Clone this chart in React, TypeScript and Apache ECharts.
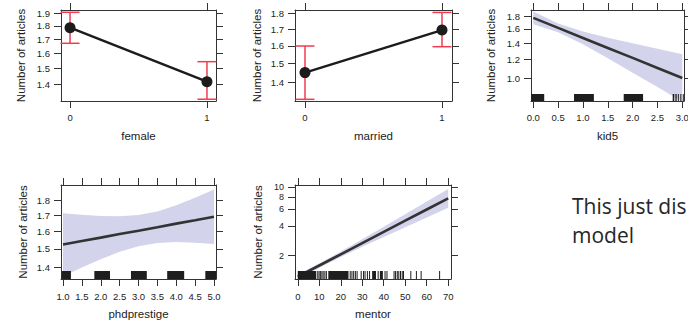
import React, { useEffect, useRef } from "react";
import * as echarts from "echarts";

// ---------------- data ----------------
// Panel 1: female (factor)
const femaleLevels = [0, 1];
const femaleFit = [1.786, 1.416];
const femaleLower = [1.67, 1.313];
const femaleUpper = [1.908, 1.543];

// Panel 2: married (factor)
const marriedLevels = [0, 1];
const marriedFit = [1.452, 1.694];
const marriedLower = [1.318, 1.595];
const marriedUpper = [1.599, 1.806];

// Panel 3: kid5
const kid5X = [0, 0.5, 1, 1.5, 2, 2.5, 3];
const kid5Fit = [1.777, 1.616, 1.47, 1.337, 1.217, 1.107, 1.007];
const kid5Upper = [1.887, 1.683, 1.561, 1.473, 1.398, 1.326, 1.261];
const kid5Lower = [1.674, 1.552, 1.384, 1.213, 1.059, 0.924, 0.804];
const kid5Rug = [
  [-0.04, 0.22], [0.82, 1.22], [1.82, 2.21],
  [2.806, 2.839], [2.86, 2.887], [2.92, 2.94], [2.97, 2.97], [3.02, 3.02],
];

// Panel 4: phdprestige
const phdX = [1, 1.5, 2, 2.5, 3, 3.5, 4, 4.5, 5];
const phdFit = [1.524, 1.544, 1.564, 1.585, 1.605, 1.626, 1.648, 1.669, 1.691];
const phdUpper = [1.714, 1.703, 1.695, 1.694, 1.702, 1.725, 1.765, 1.816, 1.873];
const phdLower = [1.354, 1.399, 1.443, 1.483, 1.514, 1.533, 1.538, 1.535, 1.527];
const phdRug = [[0.97, 1.21], [1.83, 2.245], [2.8, 3.22], [3.76, 4.21], [4.77, 5.07]];

// Panel 5: mentor
const mentorX = [0, 10, 20, 30, 40, 50, 60, 70];
const mentorFit = [1.22, 1.588, 2.067, 2.691, 3.502, 4.559, 5.933, 7.722];
const mentorUpper = [1.294, 1.669, 2.202, 2.942, 3.947, 5.309, 7.144, 9.622];
const mentorLower = [1.15, 1.51, 1.94, 2.462, 3.107, 3.915, 4.928, 6.197];
const mentorRug = [
  [0, 8.6], [9.3, 9.3], [9.9, 9.9], [10.5, 10.5], [11.2, 11.2], [11.8, 11.8], [12.6, 12.6], [13.3, 13.3],
  [14.2, 23.6], [24.4, 24.4], [25.2, 25.2], [26, 26], [26.8, 26.8], [27.6, 27.6], [29.5, 29.5],
  [30.6, 30.6], [31.3, 31.3], [32.4, 32.4], [33.4, 33.4], [34.6, 36.4], [37.4, 37.4], [38.2, 39.6],
  [40.6, 40.6], [41.5, 41.5], [44.8, 44.8], [45.5, 45.5], [46.3, 46.3], [47, 47], [47.8, 47.8],
  [48.6, 48.6], [49.2, 49.2], [52.6, 52.6], [55.2, 55.2], [57.4, 57.4], [66, 66],
];

// tick labels
const binaryXTicks = [0, 1];
const femaleYTicks = [1.4, 1.5, 1.6, 1.7, 1.8, 1.9];
const marriedYTicks = [1.4, 1.5, 1.6, 1.7, 1.8];
const kid5XTicks = [0, 0.5, 1, 1.5, 2, 2.5, 3];
const kid5YTicks = [1.0, 1.2, 1.4, 1.6, 1.8];
const phdXTicks = [1, 1.5, 2, 2.5, 3, 3.5, 4, 4.5, 5];
const phdYTicks = [1.4, 1.5, 1.6, 1.7, 1.8];
const mentorXTicks = [0, 10, 20, 30, 40, 50, 60, 70];
const mentorYTicks = [2, 4, 6, 8, 10];

const yTitle = "Number of articles";
const noteLines = ["This just dis", "model"];

// ---------------- styles / layout ----------------
const FONT = '"Liberation Sans", Arial, Helvetica, sans-serif';
const INK = "#222222";
const FRAME = "#333333";
const BAND = "#d3d3ec";
const FITLINE = "#333333";
const RED = "#f03c50";

type Panel = {
  xName: string;
  box: number[];
  x: number[];
  y: number[];
  xTicks: number[];
  yTicks: number[];
  xDec: number;
  yDec: number;
  labelMargin: number;
  yNameGap: number;
  rugH: number;
};

const panels: Panel[] = [
  { xName: "female", box: [61, 10, 155, 91], x: [-0.066, 1.066], y: [1.303, 1.927], xTicks: binaryXTicks, yTicks: femaleYTicks, xDec: 0, yDec: 1, labelMargin: 11, yNameGap: 34, rugH: 7 },
  { xName: "married", box: [295, 10, 157, 91], x: [-0.073, 1.073], y: [1.31, 1.822], xTicks: binaryXTicks, yTicks: marriedYTicks, xDec: 0, yDec: 1, labelMargin: 11, yNameGap: 32, rugH: 7 },
  { xName: "kid5", box: [531, 10, 153, 91], x: [-0.046, 3.034], y: [0.81, 1.914], xTicks: kid5XTicks, yTicks: kid5YTicks, xDec: 1, yDec: 1, labelMargin: 11, yNameGap: 34, rugH: 7 },
  { xName: "phdprestige", box: [61, 185, 155, 94], x: [0.947, 5.053], y: [1.34, 1.904], xTicks: phdXTicks, yTicks: phdYTicks, xDec: 1, yDec: 1, labelMargin: 12, yNameGap: 32, rugH: 8 },
  { xName: "mentor", box: [295, 185, 156, 94], x: [-1.3, 71.3], y: [1.156, 10.56], xTicks: mentorXTicks, yTicks: mentorYTicks, xDec: 0, yDec: 0, labelMargin: 12, yNameGap: 31, rugH: 8 },
];

const ln = Math.log;

function factorSeries(i: number, levels: number[], fit: number[], lo: number[], hi: number[]) {
  return [
    {
      type: "custom",
      xAxisIndex: 2 * i,
      yAxisIndex: 2 * i,
      silent: true,
      z: 2,
      data: levels.map((x, k) => [x, ln(lo[k]), ln(hi[k])]),
      renderItem: (_p: any, api: any) => {
        const x = api.value(0);
        const a = api.coord([x, api.value(1)]);
        const b = api.coord([x, api.value(2)]);
        const hw = 9.5;
        const st = { stroke: RED, lineWidth: 1.5 };
        return {
          type: "group",
          children: [
            { type: "line", shape: { x1: a[0], y1: a[1], x2: b[0], y2: b[1] }, style: st },
            { type: "line", shape: { x1: a[0] - hw, y1: a[1], x2: a[0] + hw, y2: a[1] }, style: st },
            { type: "line", shape: { x1: b[0] - hw, y1: b[1], x2: b[0] + hw, y2: b[1] }, style: st },
          ],
        };
      },
    },
    {
      type: "line",
      xAxisIndex: 2 * i,
      yAxisIndex: 2 * i,
      silent: true,
      z: 3,
      data: levels.map((x, k) => [x, ln(fit[k])]),
      symbol: "circle",
      symbolSize: 11,
      itemStyle: { color: "#1c1c1c" },
      lineStyle: { color: "#1c1c1c", width: 2.5 },
    },
  ];
}

function contSeries(i: number, xs: number[], fit: number[], lo: number[], hi: number[], rug: number[][], yMin: number, rugH: number) {
  return [
    {
      type: "custom",
      xAxisIndex: 2 * i,
      yAxisIndex: 2 * i,
      silent: true,
      clip: true,
      z: 1,
      data: xs.map((x, k) => [x, ln(lo[k]), ln(hi[k])]),
      renderItem: (p: any, api: any) => {
        if (p.dataIndex !== 0) return null;
        const pts: number[][] = [];
        for (let k = 0; k < xs.length; k++) pts.push(api.coord([xs[k], ln(hi[k])]));
        for (let k = xs.length - 1; k >= 0; k--) pts.push(api.coord([xs[k], ln(lo[k])]));
        return { type: "polygon", shape: { points: pts }, style: { fill: BAND } };
      },
    },
    {
      type: "line",
      xAxisIndex: 2 * i,
      yAxisIndex: 2 * i,
      silent: true,
      z: 3,
      data: xs.map((x, k) => [x, ln(fit[k])]),
      showSymbol: false,
      symbol: "none",
      lineStyle: { color: FITLINE, width: 2.6 },
    },
    {
      type: "custom",
      xAxisIndex: 2 * i,
      yAxisIndex: 2 * i,
      silent: true,
      clip: true,
      z: 4,
      data: rug.map((r) => [r[0], r[1]]),
      renderItem: (_p: any, api: any) => {
        const a = api.coord([api.value(0), ln(yMin)]);
        const b = api.coord([api.value(1), ln(yMin)]);
        const w = Math.max(b[0] - a[0], 1);
        return { type: "rect", shape: { x: a[0] - (w === 1 ? 0.5 : 0), y: a[1] - rugH, width: w, height: rugH }, style: { fill: "#1e1e1e" } };
      },
    },
  ];
}

function buildOption() {
  const grid: any[] = [];
  const xAxis: any[] = [];
  const yAxis: any[] = [];
  panels.forEach((p, i) => {
    grid.push({ left: p.box[0], top: p.box[1], width: p.box[2], height: p.box[3], containLabel: false, outerBoundsMode: "none" });
    const xFmt = (v: number) => (p.xDec === 0 ? String(Math.round(v)) : v.toFixed(p.xDec));
    const yFmt = (v: number) => {
      const e = Math.exp(v);
      return p.yDec === 0 ? String(Math.round(e)) : e.toFixed(p.yDec);
    };
    const yLn = p.yTicks.map(ln);
    const axLine = { show: true, onZero: false, lineStyle: { color: FRAME, width: 1 } };
    const tick = (vals: number[]) => ({ show: true, inside: false, length: 7, customValues: vals, lineStyle: { color: FRAME, width: 1 } });
    const lbl = { fontSize: 9.5, color: INK, fontFamily: FONT, hideOverlap: false, showMinLabel: true, showMaxLabel: true };
    const nameStyle = { fontSize: 11.5, color: INK, fontFamily: FONT };
    xAxis.push({
      type: "value", gridIndex: i, position: "bottom", min: p.x[0], max: p.x[1],
      name: p.xName, nameLocation: "middle", nameGap: 29, nameTextStyle: nameStyle,
      axisLine: axLine, axisTick: tick(p.xTicks),
      axisLabel: { show: true, customValues: p.xTicks, formatter: xFmt, margin: p.labelMargin, ...lbl },
      splitLine: { show: false },
    });
    xAxis.push({
      type: "value", gridIndex: i, position: "top", min: p.x[0], max: p.x[1],
      axisLine: axLine, axisTick: tick(p.xTicks), axisLabel: { show: false }, splitLine: { show: false },
    });
    yAxis.push({
      type: "value", gridIndex: i, position: "left", min: ln(p.y[0]), max: ln(p.y[1]),
      name: yTitle, nameLocation: "middle", nameGap: p.yNameGap, nameTextStyle: nameStyle,
      axisLine: axLine, axisTick: tick(yLn),
      axisLabel: { show: true, customValues: yLn, formatter: yFmt, margin: 11, ...lbl, fontSize: p.yDec === 0 ? 9 : 9.5 },
      splitLine: { show: false },
    });
    yAxis.push({
      type: "value", gridIndex: i, position: "right", min: ln(p.y[0]), max: ln(p.y[1]),
      axisLine: axLine, axisTick: tick(yLn), axisLabel: { show: false }, splitLine: { show: false },
    });
  });

  const series: any[] = [
    ...factorSeries(0, femaleLevels, femaleFit, femaleLower, femaleUpper),
    ...factorSeries(1, marriedLevels, marriedFit, marriedLower, marriedUpper),
    ...contSeries(2, kid5X, kid5Fit, kid5Lower, kid5Upper, kid5Rug, panels[2].y[0], panels[2].rugH),
    ...contSeries(3, phdX, phdFit, phdLower, phdUpper, phdRug, panels[3].y[0], panels[3].rugH),
    ...contSeries(4, mentorX, mentorFit, mentorLower, mentorUpper, mentorRug, panels[4].y[0], panels[4].rugH),
  ];

  return {
    animation: false,
    backgroundColor: "#ffffff",
    textStyle: { fontFamily: FONT },
    grid,
    xAxis,
    yAxis,
    series,
    graphic: noteLines.map((t, k) => ({
      type: "text",
      x: 572,
      y: 206 + k * 28.5,
      silent: true,
      style: { text: t, fontSize: 21, fontFamily: '"Open Sans", "Noto Sans", sans-serif', fill: "#262626", verticalAlign: "middle", align: "left" },
    })),
  };
}

export default function App() {
  const ref = useRef<HTMLDivElement>(null);
  useEffect(() => {
    if (!ref.current) return;
    const chart = echarts.init(ref.current, undefined, { renderer: "svg" });
    chart.setOption(buildOption() as any);
    return () => chart.dispose();
  }, []);
  return (
    <div
      ref={ref}
      style={{ position: "fixed", left: 0, top: 0, width: 688, height: 321, background: "#ffffff" }}
    />
  );
}
